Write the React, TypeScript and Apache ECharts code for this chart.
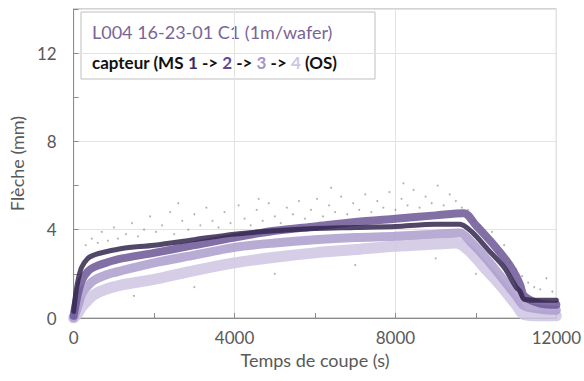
import React, { useEffect, useRef } from "react";
import * as echarts from "echarts";

// ---- data ----
const xTicks = [0, 4000, 8000, 12000];
const yTicks = [0, 4, 8, 12];

// sensor 1 (MS, darkest)
const sensor1: [number, number][] = [
  [0, 0.3], [60, 1.2], [120, 1.8], [200, 2.3], [350, 2.7], [500, 2.85], [800, 3.0],
  [1200, 3.15], [2000, 3.3], [3000, 3.55], [4000, 3.8], [5000, 3.95], [6000, 4.05],
  [7000, 4.1], [8000, 4.15], [9000, 4.25], [9600, 4.25], [9900, 3.9], [10300, 3.1],
  [10700, 2.3], [11000, 1.4], [11100, 1.2], [11200, 0.85], [11600, 0.8], [12000, 0.8],
];
// sensor 2
const sensor2: [number, number][] = [
  [0, 0.1], [60, 0.7], [120, 1.2], [200, 1.7], [350, 2.1], [500, 2.3], [800, 2.5],
  [1200, 2.7], [2000, 2.95], [3000, 3.3], [4000, 3.65], [5000, 3.95], [6000, 4.15],
  [7000, 4.35], [8000, 4.5], [9000, 4.65], [9700, 4.75], [10000, 4.2], [10400, 3.4],
  [10800, 2.5], [11000, 1.9], [11100, 1.5], [11200, 1.0], [11600, 0.65], [12000, 0.6],
];
// sensor 3
const sensor3: [number, number][] = [
  [0, 0], [80, 0.4], [150, 0.8], [200, 1.1], [350, 1.45], [500, 1.7], [800, 1.95],
  [1200, 2.15], [2000, 2.5], [3000, 2.85], [4000, 3.2], [5000, 3.4], [6000, 3.55],
  [7000, 3.65], [8000, 3.7], [9000, 3.8], [9600, 3.85], [9900, 3.4], [10300, 2.6],
  [10700, 1.7], [11000, 1.0], [11200, 0.55], [11600, 0.4], [12000, 0.35],
];
// sensor 4 (OS, lightest)
const sensor4: [number, number][] = [
  [0, 0], [100, 0.2], [200, 0.5], [350, 0.8], [500, 1.05], [800, 1.3], [1200, 1.5],
  [2000, 1.75], [3000, 2.15], [4000, 2.5], [5000, 2.75], [6000, 2.95], [7000, 3.1],
  [8000, 3.25], [9000, 3.35], [9500, 3.4], [9800, 3.1], [10200, 2.3], [10600, 1.5],
  [11000, 0.6], [11200, 0.15], [11600, 0.1], [12000, 0.1],
];
// scattered raw readings (grey speckle)
const noise: [number, number][] = [
  [300, 3.3], [450, 3.6], [600, 3.4], [700, 3.9], [850, 3.5], [1000, 4.1], [1100, 3.6],
  [1300, 3.8], [1450, 4.3], [1600, 3.7], [1750, 4.0], [1900, 4.6], [2050, 3.9], [2200, 4.2],
  [2400, 4.8], [2500, 3.8], [2700, 4.4], [2850, 4.0], [3000, 4.7], [3150, 4.2], [3300, 5.0],
  [3450, 4.4], [3600, 4.1], [3750, 4.8], [3900, 4.3], [4100, 5.1], [4250, 4.5], [4400, 4.2],
  [4550, 4.9], [4700, 4.4], [4850, 5.2], [5000, 4.6], [5150, 4.3], [5300, 5.0], [5450, 4.7],
  [5600, 5.3], [5750, 4.5], [5900, 4.9], [6050, 5.4], [6200, 4.6], [6350, 5.1], [6500, 4.8],
  [6650, 5.5], [6800, 4.7], [6950, 5.2], [7100, 4.9], [7250, 5.6], [7400, 4.8], [7550, 5.3],
  [7700, 5.0], [7850, 5.7], [8000, 4.9], [8150, 5.4], [8300, 5.1], [8450, 5.8], [8600, 5.0],
  [8750, 5.5], [8900, 5.2], [9050, 6.0], [9200, 5.1], [9350, 5.6], [9500, 5.3], [9650, 5.0],
  [9800, 4.9], [9950, 4.4], [10100, 4.2], [10250, 3.6], [10400, 3.9], [10550, 3.0],
  [10700, 3.3], [10850, 2.5], [11000, 2.2], [11150, 1.9], [11300, 1.6], [11450, 1.4],
  [11600, 1.3], [11750, 1.8], [11900, 1.2], [1500, 1.0], [3000, 1.4], [5000, 2.0],
  [7000, 2.4], [9000, 2.7], [10000, 2.0], [2600, 5.2], [4600, 5.4], [6400, 5.9], [8200, 6.1],
];

const titleLine = "L004 16-23-01 C1 (1m/wafer)";
const xName = "Temps de coupe (s)";
const yName = "Flèche (mm)";

const FONT = "Lato, 'Open Sans', sans-serif";

export default function App() {
  const ref = useRef<HTMLDivElement>(null);
  useEffect(() => {
    if (!ref.current) return;
    const chart = echarts.init(ref.current, undefined, { renderer: "svg" });
    const band = (name: string, data: [number, number][], color: string, width: number, z: number) => ({
      name,
      type: "line",
      data,
      smooth: 0.3,
      showSymbol: false,
      z,
      lineStyle: { color, width, opacity: 0.85, cap: "round", join: "round" },
    });
    const rb = (fill: string) => ({ fill, fontSize: 17, fontWeight: "bold", fontFamily: FONT });
    chart.setOption({
      animation: false,
      backgroundColor: "#ffffff",
      textStyle: { fontFamily: FONT },
      grid: {
        left: 72, right: 26, top: 9, bottom: 63,
        show: true, borderColor: "#a6a6a6", borderWidth: 1,
      },
      xAxis: {
        type: "value",
        min: xTicks[0],
        max: xTicks[xTicks.length - 1],
        interval: xTicks[1] - xTicks[0],
        name: xName,
        nameLocation: "middle",
        nameGap: 31,
        nameTextStyle: { color: "#595959", fontSize: 18, fontFamily: FONT },
        axisLine: { lineStyle: { color: "#8c8c8c" } },
        axisTick: { inside: true, length: 5, lineStyle: { color: "#8c8c8c" } },
        minorTick: { show: true, splitNumber: 2, length: 5, lineStyle: { color: "#8c8c8c" } },
        axisLabel: {
          color: "#595959", fontSize: 17, margin: 11, fontFamily: FONT,
          formatter: (v: number) => String(v),
        },
        splitLine: { show: true, lineStyle: { color: "#e3e3e3" } },
      },
      yAxis: {
        type: "value",
        min: 0,
        max: 14,
        interval: yTicks[1] - yTicks[0],
        name: yName,
        nameLocation: "middle",
        nameGap: 35,
        nameTextStyle: { color: "#595959", fontSize: 18, fontFamily: FONT },
        axisLine: { show: true, lineStyle: { color: "#8c8c8c" } },
        axisTick: { show: true, inside: true, length: 5, lineStyle: { color: "#8c8c8c" } },
        minorTick: { show: true, splitNumber: 2, length: 5, lineStyle: { color: "#8c8c8c" } },
        axisLabel: {
          color: "#595959", fontSize: 17, margin: 17, fontFamily: FONT,
          showMaxLabel: false,
          formatter: (v: number) => (yTicks.includes(v) ? String(v) : ""),
        },
        splitLine: { show: true, lineStyle: { color: "#e3e3e3" } },
      },
      series: [
        {
          name: "noise",
          type: "scatter",
          data: noise,
          symbolSize: 2,
          z: 1,
          itemStyle: { color: "#777777", opacity: 0.55 },
        },
        band("4", sensor4, "#cfc6e3", 11, 2),
        band("3", sensor3, "#ab9dcd", 9, 3),
        band("2", sensor2, "#6b5697", 8, 4),
        band("1", sensor1, "#34264f", 5, 5),
      ],
      graphic: [
        {
          type: "group",
          z: 100,
          children: [
            {
              type: "rect",
              shape: { x: 81, y: 12, width: 294, height: 67 },
              style: { fill: "#ffffff", stroke: "#bfbfbf", lineWidth: 1 },
            },
            {
              type: "text",
              x: 92,
              y: 32,
              style: {
                text: titleLine,
                fill: "#7a6496",
                font: `18px ${FONT}`,
                verticalAlign: "middle",
              },
            },
            {
              type: "text",
              x: 92,
              y: 62,
              style: {
                text: "{b|capteur (MS }{c1|1}{b| -> }{c2|2}{b| -> }{c3|3}{b| -> }{c4|4}{b| (OS)}",
                verticalAlign: "middle",
                rich: {
                  b: rb("#111111"),
                  c1: rb("#3b2a62"),
                  c2: rb("#5e4a8e"),
                  c3: rb("#a596c7"),
                  c4: rb("#cfc6e3"),
                },
              },
            },
          ],
        },
      ],
    });
    return () => chart.dispose();
  }, []);
  return (
    <div
      ref={ref}
      style={{ position: "fixed", left: 0, top: 0, width: 584, height: 381, background: "#fff" }}
    />
  );
}
